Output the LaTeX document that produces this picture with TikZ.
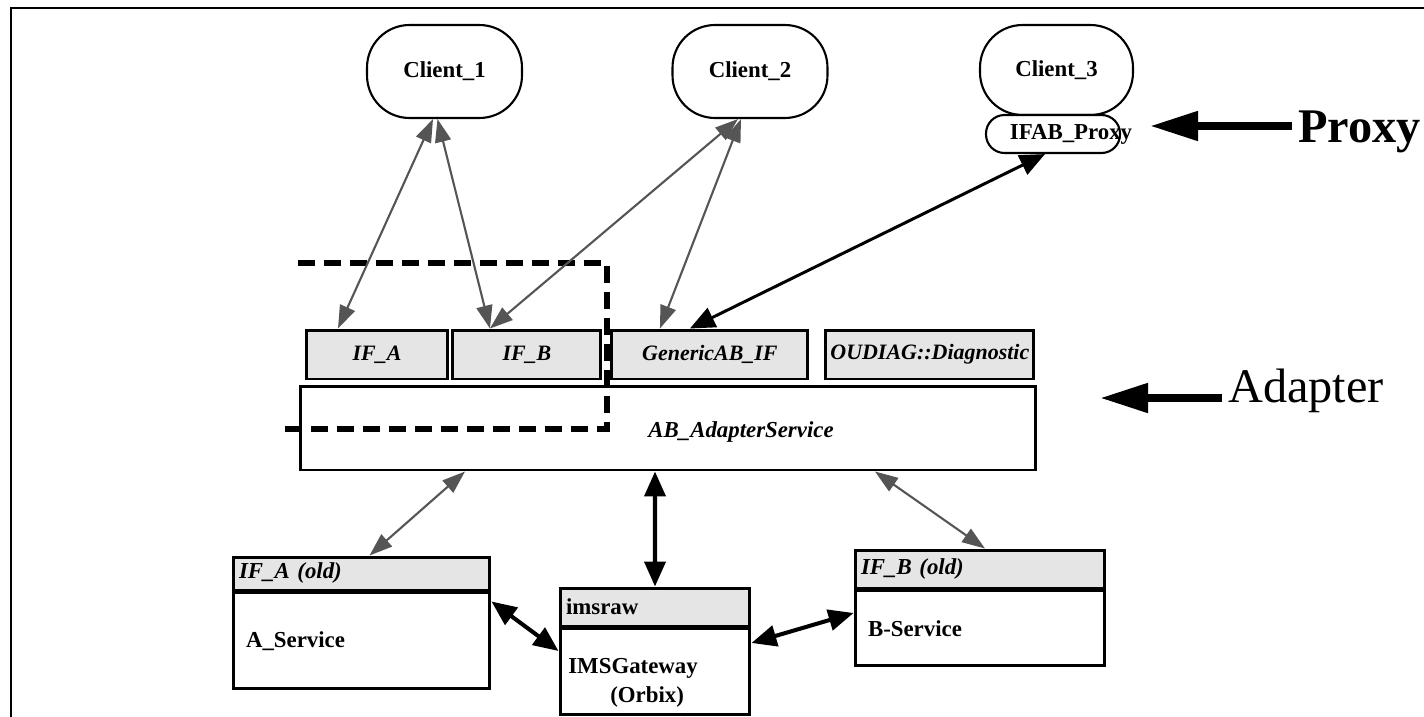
\documentclass[tikz,border=0pt]{standalone}
\usepackage{fontspec}
\setmainfont{Liberation Serif}
\usetikzlibrary{arrows.meta,positioning}
\definecolor{hdr}{HTML}{E5E5E5}
\definecolor{wire}{HTML}{555555}
\tikzset{
  frame/.style={draw=black, line width=1.7pt},
  client/.style={draw=black, fill=white, line width=1.2pt, rounded corners=0.85cm, minimum width=3.1cm, minimum height=1.86cm, font=\fontsize{13}{15}\selectfont\bfseries},
  pill/.style={draw=black, fill=white, line width=1.2pt, rounded corners=0.37cm, minimum width=2.68cm, minimum height=0.76cm},
  iface/.style={draw=black, fill=hdr, line width=1.7pt, minimum height=0.98cm, font=\fontsize{12.5}{15}\selectfont\bfseries\itshape},
  svc/.style={draw=black, fill=white, line width=1.7pt, minimum width=14.72cm, minimum height=1.68cm},
  head/.style={draw=black, fill=hdr, line width=1.7pt, inner xsep=0.12cm, align=left, font=\fontsize{13}{15}\selectfont\bfseries\itshape},
  body/.style={draw=black, fill=white, line width=1.7pt, inner xsep=0.26cm, align=left, font=\fontsize{13}{15}\selectfont\bfseries},
  lab/.style={font=\fontsize{13}{16.4}\selectfont\bfseries},
  labi/.style={font=\fontsize{13}{15}\selectfont\bfseries\itshape},
  dashbox/.style={draw=black, line width=3.4pt, dash pattern=on 0.34cm off 0.18cm},
  link/.style={draw=wire, line width=1.2pt, >={Triangle[length=0.46cm,width=0.32cm]}, <->},
  fat/.style={draw=black, line width=2.3pt, >={Triangle[length=0.5cm,width=0.42cm]}, <->},
  bigarrow/.style={draw=black, line width=4.5pt, -{Triangle[length=0.96cm,width=0.56cm]}},
  bigtxt/.style={font=\fontsize{27.5}{30}\selectfont},
}
\begin{document}
\begin{tikzpicture}[x=0.02cm, y=-0.02cm]
\useasboundingbox (0,0) rectangle (1424,717);
\draw[frame] (11,760) -- (11,8) -- (1460,8);

% clients
\node[client] (c1) at (444.5,71.5) {Client\_1};
\node[client] (c2) at (750,71.5) {Client\_2};
\node[client, minimum width=3.06cm, minimum height=1.8cm] (c3) at (1056.5,70) {Client\_3};
\node[pill] (pxy) at (1053,134) {};
\node[lab] (pxytxt) at (1071,134) {IFAB\_Proxy};

% interfaces of the adapter
\node[iface, minimum width=2.84cm] (ifa) at (377,354.5) {IF\_A};
\node[iface, minimum width=2.96cm, right=0.04cm of ifa] (ifb) {IF\_B};
\node[iface, minimum width=3.92cm, right=0.16cm of ifb] (gen) {GenericAB\_IF};
\node[iface, minimum width=4.16cm, inner xsep=2pt, right=0.3cm of gen] (oud) {OUDIAG::Diagnostic};
\node[svc] (ab) at (668,428) {};
\node[labi] (abtxt) at (741,432) {AB\_AdapterService};
\draw[dashbox] (298,263) -- (607,263) -- (607,429) -- (285,429);

% old services
\node[head, minimum height=0.66cm, text width=4.9cm] (ifaoldh) at (361.5,573.5) {IF\_A (old)};
\node[body, minimum height=1.92cm, text width=4.62cm, below=0pt of ifaoldh] (ifaold) {A\_Service};
\node[head, minimum height=0.76cm, text width=3.56cm, font=\fontsize{13}{15}\selectfont\bfseries] (imsh) at (655,607) {imsraw};
\node[body, minimum width=3.8cm, minimum height=1.72cm, below=0pt of imsh] (gw) {};
\node[lab, align=left, anchor=west, inner sep=0] (gwtxt) at (568,683) {IMSGateway\\\hspace*{0.84cm}(Orbix)};
\node[head, minimum height=0.76cm, text width=4.76cm] (ifboldh) at (980,569) {IF\_B (old)};
\node[body, minimum height=1.5cm, text width=4.48cm, below=0pt of ifboldh] (ifbold) {B-Service};

% client links
\draw[link] ([xshift=-0.23cm]c1.south) -- ([xshift=-0.78cm]ifa.north);
\draw[link] ([xshift=-0.14cm]c1.south) -- ([xshift=-0.74cm]ifb.north);
\draw[link] ([xshift=-0.24cm]c2.south) -- ([xshift=-0.74cm]ifb.north);
\draw[link] ([xshift=-0.18cm]c2.south) -- ([xshift=-1.0cm]gen.north);
\draw[fat, line width=1.7pt] ([xshift=-0.16cm]pxy.south) -- ([xshift=-0.4cm]gen.north);

% adapter to old services
\draw[link] ([xshift=-4.06cm]ab.south) -- ([xshift=0.16cm]ifaoldh.north);
\draw[fat] ([xshift=-0.26cm]ab.south) -- (imsh.north);
\draw[link] ([xshift=4.14cm]ab.south) -- ([xshift=0.1cm]ifboldh.north);
\draw[fat] ([yshift=-0.2cm]ifaold.north east) -- ([yshift=0.42cm]gw.west);
\draw[fat] ([yshift=0.58cm]gw.east) -- ([yshift=0.31cm]ifbold.west);
\coordinate (gwin) at (683,760);
\draw[draw=black, line width=0.6pt, -{Triangle[length=0.2cm,width=0.12cm]}] (gwin) -- ([xshift=0.56cm]gw.south);

% side labels
\node[bigtxt, anchor=base west] (proxylab) at (1292,142) {\bfseries Proxy};
\coordinate (proxytip) at (1150,126);
\draw[bigarrow] (proxylab.west |- proxytip) -- (proxytip);
\node[bigtxt, anchor=base west] (adlab) at (1222,402) {Adapter};
\coordinate (adtip) at (1100,398);
\draw[bigarrow] (adlab.west |- adtip) -- (adtip);
\end{tikzpicture}
\end{document}
